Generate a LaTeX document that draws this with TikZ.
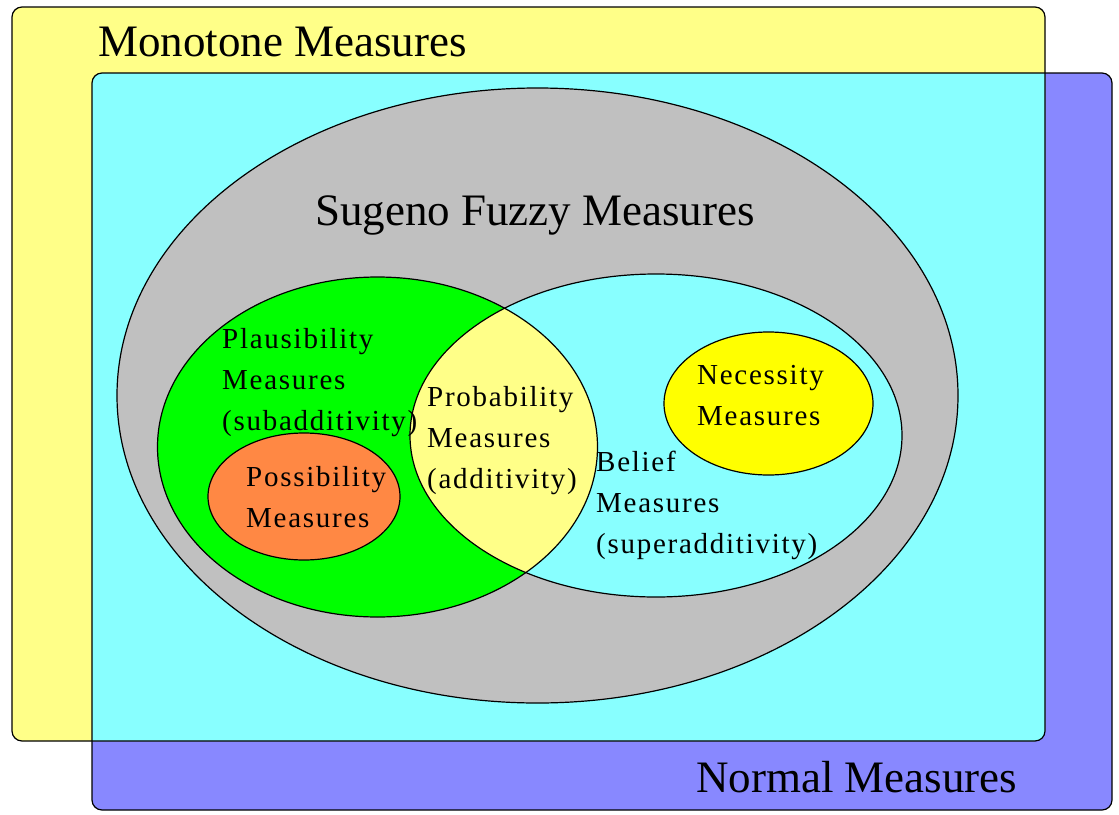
\documentclass[tikz,border=0pt]{standalone}
\usepackage{fontspec}
\setmainfont{Liberation Serif}
\newfontfamily\setfont[LetterSpace=6]{Liberation Serif}
\definecolor{monoyellow}{HTML}{FFFF88}
\definecolor{normalblue}{HTML}{8888FF}
\definecolor{bothcyan}{HTML}{88FFFF}
\definecolor{sugenogray}{HTML}{C0C0C0}
\definecolor{plausgreen}{HTML}{00FF00}
\definecolor{possorange}{HTML}{FF8844}
\definecolor{necyellow}{HTML}{FFFF00}
\begin{document}
\begin{tikzpicture}[x=1pt,y=-1pt,
    rim/.style={draw=black,line width=1.2pt},
    familyname/.style={font=\fontsize{45}{50}\selectfont,inner sep=0pt},
    measurename/.style={font=\setfont\fontsize{29}{41}\selectfont,align=left,inner sep=0pt,anchor=base west}]
    \useasboundingbox (0,0) rectangle (1119,814);
    % monotone and normal families
    \fill[normalblue,rounded corners=10] (92,73) rectangle (1112,810);
    \fill[monoyellow,rounded corners=10] (12,7) rectangle (1045,741);
    \begin{scope}
        \clip[rounded corners=10] (12,7) rectangle (1045,741);
        \fill[bothcyan,rounded corners=10] (92,73) rectangle (1112,810);
    \end{scope}
    \draw[rim,rounded corners=10] (92,73) rectangle (1112,810);
    \draw[rim,rounded corners=10] (12,7) rectangle (1045,741);
    % sugeno
    \draw[rim,fill=sugenogray] (537.5,395.5) ellipse [x radius=420.5, y radius=307.5];
    % plausibility and belief, probability where they meet
    \fill[plausgreen] (377.5,447) ellipse [x radius=220, y radius=170];
    \fill[bothcyan] (656,435.5) ellipse [x radius=246, y radius=161.5];
    \begin{scope}
        \clip (377.5,447) ellipse [x radius=220, y radius=170];
        \fill[monoyellow] (656,435.5) ellipse [x radius=246, y radius=161.5];
    \end{scope}
    \draw[rim] (377.5,447) ellipse [x radius=220, y radius=170];
    \draw[rim] (656,435.5) ellipse [x radius=246, y radius=161.5];
    \draw[rim,fill=possorange] (304,496.5) ellipse [x radius=96, y radius=63.5];
    \draw[rim,fill=necyellow] (768.5,403.5) ellipse [x radius=104.5, y radius=71.5];
    % names (base = last line)
    \node[familyname,anchor=base west] (monotone) at (98,56) {Monotone Measures};
    \node[familyname,anchor=base] (sugeno) at (535,225) {Sugeno Fuzzy Measures};
    \node[familyname,anchor=base west] (normal) at (696,792) {Normal Measures};
    \node[measurename] (plausibility) at (222,430) {Plausibility\\Measures\\(subadditivity)};
    \node[measurename] (possibility) at (246,527) {Possibility\\Measures};
    \node[measurename] (probability) at (427,488) {Probability\\Measures\\(additivity)};
    \node[measurename] (belief) at (596,553) {Belief\\Measures\\(superadditivity)};
    \node[measurename] (necessity) at (697,425) {Necessity\\Measures};
\end{tikzpicture}
\end{document}
